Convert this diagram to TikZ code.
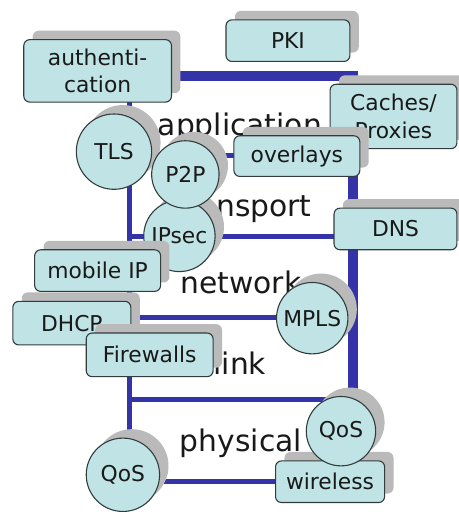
\documentclass[tikz,border=0pt]{standalone}
\usepackage{fontspec}
\setmainfont{DejaVu Sans}
\usetikzlibrary{shadows}
\definecolor{nodefill}{RGB}{192,228,230}
\definecolor{edgecol}{RGB}{50,60,60}
\definecolor{linecol}{RGB}{52,52,168}
\definecolor{shadowgray}{RGB}{186,186,186}
\definecolor{textcol}{RGB}{25,25,25}
\pgfdeclarelayer{back}
\pgfdeclarelayer{bg}
\pgfsetlayers{back,bg,main}
\begin{document}
\begin{tikzpicture}[x=1pt,y=-1pt,
  shad/.style={drop shadow={shadow xshift=9pt,shadow yshift=9pt,fill=shadowgray,opacity=1}},
  box/.style={shad,draw=edgecol,fill=nodefill,rounded corners=6pt,line width=1.1pt,inner sep=0pt,
    font=\fontsize{22}{28}\selectfont,text=textcol,align=center},
  circ/.style={shad,circle,draw=edgecol,fill=nodefill,line width=1.1pt,inner sep=0pt,
    font=\fontsize{22}{27}\selectfont,text=textcol},
  layer/.style={font=\fontsize{30}{36}\selectfont,text=textcol,anchor=base,inner sep=0pt},
  frameline/.style={draw=linecol,line width=10pt,line join=miter},
  thinline/.style={draw=linecol,line width=5pt}
]
\begin{pgfonlayer}{back}
\useasboundingbox[fill=white] (0,0) rectangle (463,512);
\end{pgfonlayer}

% frame coordinates
\coordinate (tA) at (173,77);
\coordinate (tR) at (356,77);
\coordinate (bR) at (356,403);
\coordinate (lTop) at (131,103);
\coordinate (lBot) at (131,442);
\coordinate (h1L) at (131,157);
\coordinate (h1R) at (356,157);
\coordinate (h2L) at (131,239);
\coordinate (h2R) at (356,239);
\coordinate (h3L) at (131,320);
\coordinate (h3R) at (356,320);
\coordinate (h4L) at (131,403);

% layer labels
\node[layer] (lapp) at (242,137) {application};
\node[layer] (ltra) at (245,218) {transport};
\node[layer] (lnet) at (243,296) {network};
\node[layer] (llin) at (242,378) {link};
\node[layer] (lphy) at (243,456) {physical};

% nodes
\node[box,minimum width=125pt,minimum height=42pt] (pki) at (290.5,41) {PKI};
\node[box,minimum width=149pt,minimum height=63pt] (auth) at (98.5,71.5) {authenti-\\cation};
\node[box,minimum width=128pt,minimum height=65pt] (cache) at (397,117.5) {Caches/\\Proxies};
\node[box,minimum width=127pt,minimum height=41pt] (over) at (299.5,157.5) {overlays};
\node[box,minimum width=124pt,minimum height=42pt] (dns) at (399,231) {DNS};
\node[circ,minimum size=76pt] (tls) at (115,153) {TLS};
\node[circ,minimum size=72pt] (ipsec) at (181,238) {IPsec};
\node[circ,minimum size=68pt] (p2p) at (187,176) {P2P};
\node[box,minimum width=127pt,minimum height=42pt] (mip) at (98.5,273) {mobile IP};
\node[box,minimum width=119pt,minimum height=44pt] (dhcp) at (72.5,326) {DHCP};
\node[box,minimum width=128pt,minimum height=44pt] (fw) at (151,358) {Firewalls};
\node[circ,minimum size=72pt] (mpls) at (315,321) {MPLS};
\node[circ,minimum size=74pt] (qosL) at (124,479) {QoS};
\node[box,minimum width=110pt,minimum height=42pt] (wl) at (333,486) {wireless};
\node[circ,minimum size=70pt] (qosR) at (344,435) {QoS};

% connectors (under the nodes)
\begin{pgfonlayer}{bg}
\draw[thinline] (lTop) -- (lBot);
\draw[thinline] (h1L) -- (h1R);
\draw[thinline] (h2L) -- (h2R);
\draw[thinline] (h3L) -- (h3R);
\draw[thinline] (h4L) -- (bR);
\draw[thinline] (qosL.east |- wl.west) -- (wl.west);
\draw[frameline] (tA) -- (tR) -- ([yshift=2.5pt]bR);
\end{pgfonlayer}
\end{tikzpicture}
\end{document}
